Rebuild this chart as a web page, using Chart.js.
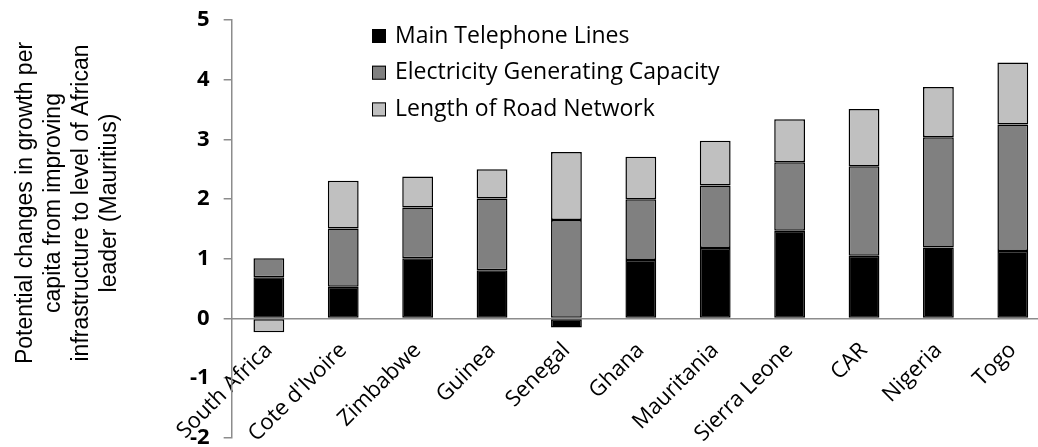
<!DOCTYPE html>
<html>
<head>
<meta charset="utf-8">
<script src="https://cdn.jsdelivr.net/npm/chart.js@4.4.1/dist/chart.umd.min.js"></script>
<style>
  html, body { margin: 0; padding: 0; background: #fff; overflow: hidden; }
  /* el lienzo es algo mayor que la ventana: el gráfico original está recortado a la derecha */
  #wrap { width: 1060px; height: 472px; position: relative; margin-top: -7px; }
</style>
</head>
<body>
<div id="wrap"><canvas id="infraChart"></canvas></div>
<script>
// Datos
const countries = ['South Africa', "Cote d'Ivoire", 'Zimbabwe', 'Guinea', 'Senegal', 'Ghana', 'Mauritania', 'Sierra Leone', 'CAR', 'Nigeria', 'Togo'];
const phoneLines = [0.69, 0.53, 1.01, 0.81, -0.15, 0.98, 1.18, 1.47, 1.05, 1.19, 1.13];
const electricity = [0.32, 0.98, 0.85, 1.20, 1.65, 1.02, 1.05, 1.15, 1.50, 1.85, 2.12];
const roads = [-0.23, 0.80, 0.52, 0.49, 1.14, 0.71, 0.75, 0.72, 0.96, 0.84, 1.04];
const seriesNames = ['Main Telephone Lines', 'Electricity Generating Capacity', 'Length of Road Network'];
const yTitleLines = ['Potential changes in growth per', 'capita from improving', 'infrastructure to level of African', 'leader (Mauritius)'];

const colors = ['#000000', '#808080', '#c0c0c0'];
const axisGray = '#8c8c8c';
const shiftY = 7;

// Leyenda dentro del área del gráfico (lista vertical)
const insideLegend = {
  id: 'insideLegend',
  afterDraw(chart) {
    const ctx = chart.ctx;
    ctx.save();
    ctx.font = '23px "Open Sans"';
    ctx.textBaseline = 'middle';
    chart.data.datasets.forEach((ds, i) => {
      const y = shiftY + 36 + i * 36.7;
      ctx.fillStyle = ds.backgroundColor;
      ctx.fillRect(372, y - 7, 14, 14);
      ctx.lineWidth = 1;
      ctx.strokeStyle = '#000';
      ctx.strokeRect(372.5, y - 6.5, 13, 13);
      ctx.fillStyle = '#000';
      ctx.fillText(ds.label, 395, y);
    });
    ctx.restore();
  }
};

// Título del eje Y en varias líneas
const yTitle = {
  id: 'yTitle',
  afterDraw(chart) {
    const ctx = chart.ctx;
    ctx.save();
    ctx.font = '23px "Liberation Sans", Arial, sans-serif';
    ctx.fillStyle = '#000';
    ctx.textAlign = 'center';
    ctx.textBaseline = 'middle';
    ctx.translate(68, 203 + shiftY);
    ctx.rotate(-Math.PI / 2);
    yTitleLines.forEach((line, i) => {
      ctx.fillText(line, 0, (i - 1.5) * 28);
    });
    ctx.restore();
  }
};

const barStyle = { borderColor: '#000', borderWidth: 1.5, borderSkipped: false, barPercentage: 0.414, categoryPercentage: 1 };

new Chart(document.getElementById('infraChart'), {
  type: 'bar',
  data: {
    labels: countries,
    datasets: [
      { label: seriesNames[0], data: phoneLines, backgroundColor: colors[0], ...barStyle },
      { label: seriesNames[1], data: electricity, backgroundColor: colors[1], ...barStyle },
      { label: seriesNames[2], data: roads, backgroundColor: colors[2], ...barStyle }
    ]
  },
  options: {
    responsive: true,
    maintainAspectRatio: false,
    animation: false,
    layout: { padding: { left: 176, right: 10, top: 1, bottom: 0 } },
    plugins: { legend: { display: false }, tooltip: { enabled: false } },
    scales: {
      x: {
        stacked: true,
        position: { y: 0 },
        grid: { display: false },
        border: { color: axisGray, width: 1.5 },
        ticks: { color: '#000', font: { family: 'Open Sans', size: 22 }, minRotation: 45, maxRotation: 45, padding: 11 }
      },
      y: {
        stacked: true,
        min: -2,
        max: 5,
        grid: { drawOnChartArea: false, drawTicks: true, tickLength: 8, color: axisGray, lineWidth: 1.5 },
        border: { color: axisGray, width: 1.5 },
        ticks: { stepSize: 1, color: '#000', font: { family: 'Open Sans', size: 22, weight: 'bold' }, padding: 14 }
      }
    }
  },
  plugins: [insideLegend, yTitle]
});
</script>
</body>
</html>
